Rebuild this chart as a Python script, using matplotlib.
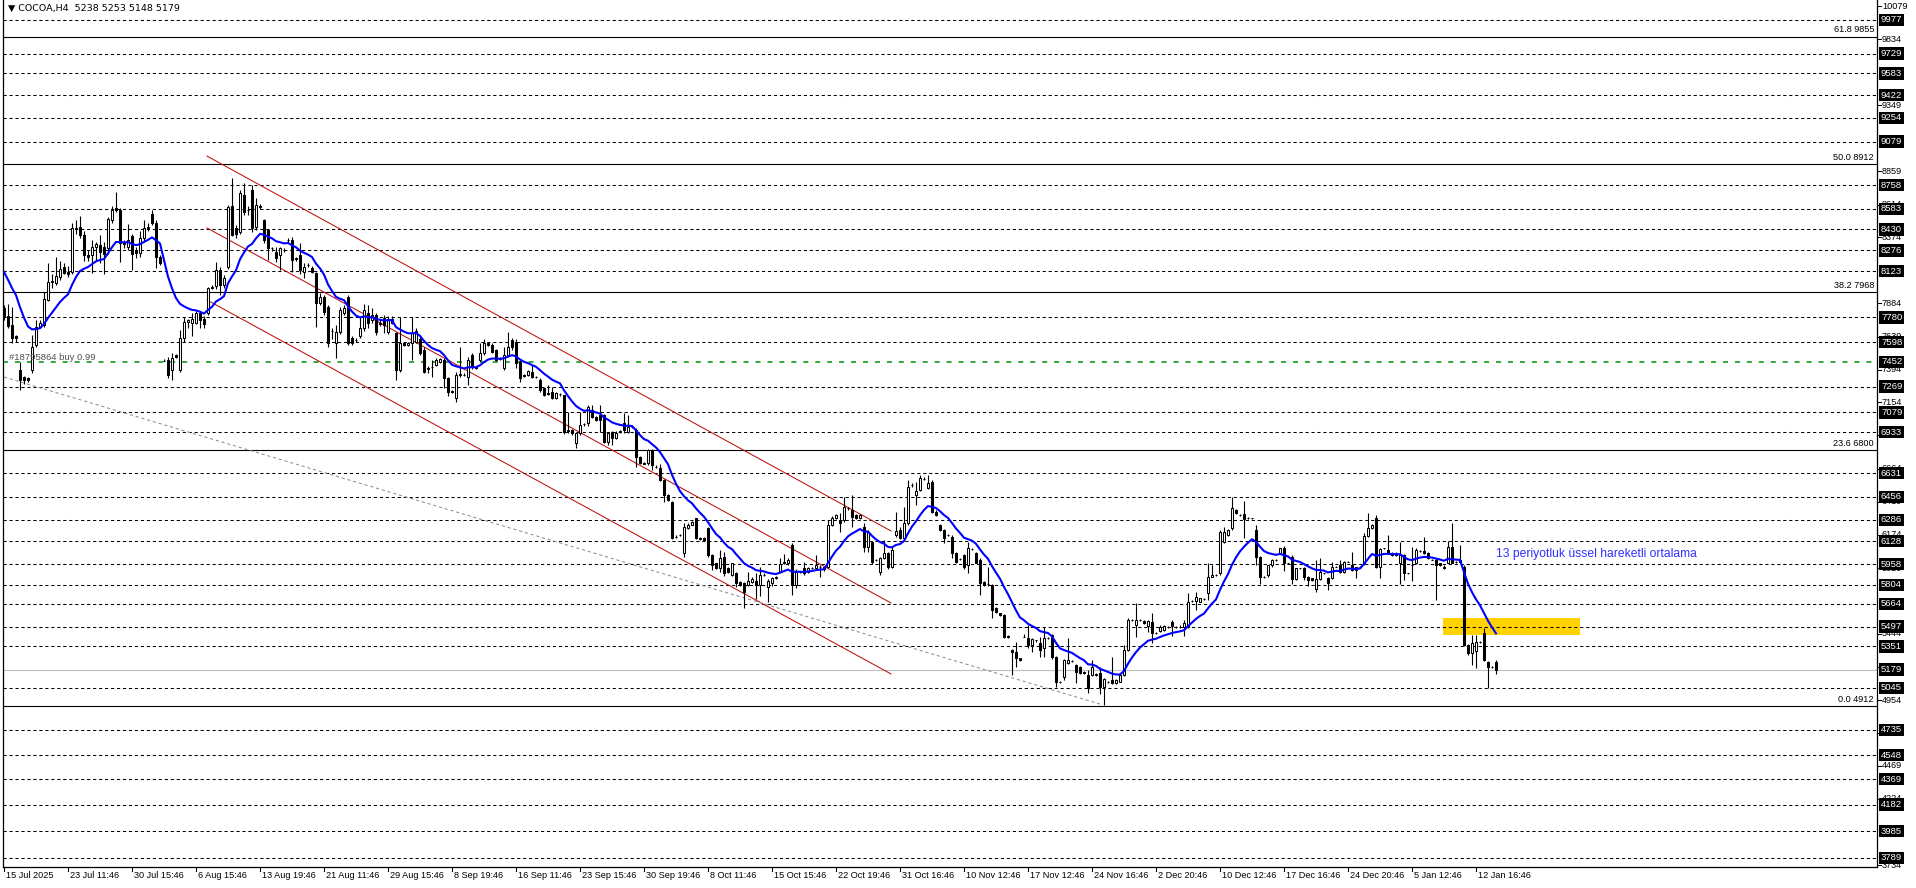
import numpy as np
import pandas as pd
import matplotlib
matplotlib.use("Agg")
import matplotlib.pyplot as plt
from matplotlib.patches import Rectangle

plt.rcParams['font.family'] = ['Liberation Sans', 'DejaVu Sans']
plt.rcParams['lines.scale_dashes'] = False

# ---- data (COCOA, H4) ----
opens = [
    7850, 7790, 7724, 7640, 7392, 7340, 7330, 7392, 7576, 7712,
    7724, 7910, 8040, 8037, 8082, 8155, 8116, 8118, 8440, 8445,
    8390, 8240, 8240, 8300, 8315, 8300, 8290, 8500, 8590, 8570,
    8330, 8300, 8380, 8278, 8253, 8365, 8440, 8544, 8480, 8230,
    7460, 7466, 7390, 7500, 7392, 7626, 7750, 7740, 7740, 7810,
    7770, 7810, 8006, 8010, 8130, 8020, 8155, 8600, 8440, 8414,
    8685, 8574, 8721, 8450, 8600, 8500, 8426, 8290, 8265, 8240,
    8280, 8352, 8352, 8217, 8241, 8118, 8167, 8143, 8106, 7884,
    7933, 7860, 7683, 7589, 7675, 7810, 7933, 7626, 7614, 7640,
    7700, 7810, 7760, 7797, 7740, 7773, 7670, 7740, 7663, 7392,
    7589, 7580, 7589, 7600, 7618, 7540, 7404, 7416, 7430, 7450,
    7466, 7330, 7236, 7183, 7355, 7355, 7343, 7503, 7416, 7466,
    7515, 7589, 7575, 7540, 7478, 7404, 7503, 7613, 7601, 7453,
    7355, 7355, 7380, 7343, 7318, 7256, 7220, 7232, 7183, 7212,
    7207, 6948, 6948, 6850, 6924, 6990, 7000, 7097, 7047, 7060,
    7060, 6862, 6936, 6887, 6936, 7000, 6936, 6973, 6948, 6752,
    6702, 6702, 6801, 6678, 6665, 6580, 6468, 6420, 6160, 6173,
    6038, 6226, 6250, 6296, 6148, 6148, 6222, 6025, 5964, 5927,
    6013, 5927, 5878, 5890, 5828, 5816, 5804, 5828, 5830, 5804,
    5878, 5790, 5816, 5855, 5902, 5970, 5963, 6099, 5804, 5902,
    5927, 5902, 5928, 5927, 5940, 5920, 5940, 6247, 6297, 6284,
    6284, 6370, 6358, 6321, 6300, 6235, 6087, 6124, 5988, 5902,
    6001, 6038, 5940, 6173, 6210, 6148, 6260, 6543, 6469, 6506,
    6586, 6518, 6562, 6346, 6247, 6210, 6173, 6161, 6038, 5995,
    6025, 5951, 6067, 6038, 5988, 5829, 5811, 5804, 5631, 5594,
    5582, 5427, 5324, 5310, 5262, 5422, 5410, 5360, 5398, 5373,
    5336, 5410, 5435, 5275, 5090, 5127, 5225, 5240, 5213, 5200,
    5164, 5140, 5140, 5140, 5152, 5053, 5090, 5102, 5078, 5090,
    5140, 5324, 5545, 5508, 5545, 5540, 5502, 5533, 5447, 5465,
    5471, 5496, 5533, 5496, 5496, 5496, 5496, 5688, 5688, 5680,
    5698, 5742, 5865, 5878, 5890, 6124, 6173, 6222, 6358, 6321,
    6326, 6297, 6296, 6210, 6013, 5865, 5878, 5952, 5989, 6038,
    6075, 5964, 6013, 5846, 5927, 5927, 5865, 5853, 5772, 5846,
    5890, 5853, 5853, 5940, 5952, 5902, 5976, 5952, 5934, 5940,
    5964, 6166, 6222, 6296, 5940, 6075, 6062, 6038, 6043, 5970,
    6025, 5890, 5952, 5964, 6055, 6055, 6038, 5990, 5989, 5964,
    5940, 5970, 6087, 5976, 5989, 5940, 5361, 5299, 5318, 5385,
    5447, 5238, 5201, 5238,
]
highs = [
    7870, 7880, 7860, 7650, 7453, 7350, 7340, 7650, 7760, 7760,
    7970, 8180, 8100, 8230, 8200, 8180, 8160, 8475, 8500, 8530,
    8420, 8280, 8350, 8340, 8390, 8340, 8525, 8600, 8710, 8585,
    8350, 8470, 8400, 8300, 8415, 8500, 8475, 8570, 8500, 8240,
    7475, 7490, 7515, 7510, 7690, 7785, 7770, 7810, 7830, 7830,
    7790, 8007, 8020, 8190, 8150, 8090, 8610, 8807, 8460, 8721,
    8771, 8600, 8758, 8660, 8620, 8505, 8430, 8300, 8300, 8300,
    8290, 8370, 8377, 8230, 8327, 8180, 8180, 8160, 8118, 7960,
    7946, 7872, 7700, 7724, 7860, 7870, 7946, 7640, 7625, 7785,
    7880, 7870, 7850, 7810, 7770, 7798, 7790, 7790, 7675, 7786,
    7600, 7600, 7786, 7700, 7640, 7560, 7420, 7466, 7480, 7480,
    7478, 7343, 7245, 7380, 7564, 7370, 7490, 7520, 7425, 7589,
    7620, 7600, 7590, 7550, 7490, 7564, 7675, 7626, 7620, 7466,
    7365, 7390, 7430, 7350, 7330, 7265, 7281, 7269, 7230, 7225,
    7210, 7080, 6955, 6936, 7085, 7000, 7130, 7134, 7055, 7134,
    7070, 6936, 6945, 6940, 6950, 7072, 7060, 6980, 6960, 6760,
    6710, 6810, 6810, 6690, 6700, 6590, 6475, 6425, 6170, 6180,
    6260, 6260, 6280, 6300, 6155, 6155, 6230, 6030, 5970, 6060,
    6050, 5935, 5970, 5900, 5835, 5825, 5900, 5860, 5890, 5940,
    5890, 5850, 5860, 5870, 6000, 6033, 6000, 6112, 5920, 5910,
    5975, 5935, 5940, 6025, 5950, 5940, 6284, 6310, 6330, 6333,
    6456, 6380, 6469, 6330, 6330, 6260, 6210, 6130, 5995, 6010,
    6136, 6050, 6087, 6345, 6235, 6382, 6580, 6555, 6568, 6616,
    6600, 6616, 6580, 6355, 6255, 6220, 6180, 6170, 6045, 6000,
    6035, 6124, 6075, 6045, 6000, 5835, 5940, 5810, 5640, 5600,
    5590, 5432, 5330, 5385, 5268, 5440, 5508, 5410, 5400, 5422,
    5496, 5420, 5440, 5280, 5098, 5260, 5410, 5248, 5220, 5205,
    5170, 5175, 5250, 5155, 5200, 5120, 5098, 5275, 5110, 5145,
    5360, 5558, 5552, 5668, 5552, 5548, 5545, 5594, 5455, 5505,
    5505, 5502, 5545, 5502, 5505, 5545, 5742, 5695, 5755, 5710,
    5705, 5964, 5952, 5885, 6210, 6235, 6215, 6456, 6365, 6328,
    6427, 6305, 6302, 6247, 6020, 5872, 5952, 5995, 5995, 6080,
    6090, 5970, 6025, 5930, 5932, 5935, 5870, 5858, 5990, 6001,
    5896, 5860, 5976, 5946, 5989, 5980, 5980, 6050, 5940, 5945,
    6186, 6333, 6252, 6321, 6075, 6080, 6173, 6045, 6050, 6124,
    6030, 5895, 6087, 6075, 6060, 6161, 6045, 5995, 5995, 5970,
    5948, 6131, 6259, 5982, 6100, 5952, 5368, 5435, 5435, 5392,
    5484, 5245, 5208, 5253,
]
lows = [
    7760, 7700, 7590, 7600, 7244, 7290, 7300, 7368, 7565, 7700,
    7710, 7900, 8000, 8020, 8060, 8100, 8080, 8100, 8400, 8370,
    8200, 8200, 8110, 8200, 8180, 8100, 8250, 8480, 8560, 8192,
    8290, 8280, 8130, 8220, 8230, 8340, 8420, 8460, 8143, 8170,
    7455, 7330, 7318, 7480, 7380, 7600, 7700, 7640, 7730, 7700,
    7700, 7800, 7990, 7990, 7946, 8000, 8140, 8380, 8370, 8400,
    8537, 8540, 8414, 8425, 8580, 8330, 8205, 8270, 8190, 8130,
    8260, 8330, 8118, 8200, 8100, 8069, 8150, 8110, 7712, 7870,
    7800, 7564, 7620, 7478, 7660, 7800, 7580, 7580, 7600, 7630,
    7680, 7700, 7740, 7650, 7720, 7663, 7660, 7730, 7318, 7380,
    7570, 7570, 7466, 7590, 7500, 7370, 7370, 7343, 7420, 7440,
    7257, 7200, 7220, 7158, 7340, 7345, 7281, 7400, 7400, 7450,
    7500, 7570, 7520, 7460, 7465, 7392, 7490, 7540, 7410, 7300,
    7340, 7345, 7335, 7330, 7232, 7200, 7205, 7175, 7175, 7200,
    6920, 6930, 6910, 6813, 6910, 6980, 6980, 7040, 7015, 6936,
    6855, 6840, 6838, 6880, 6930, 6930, 6930, 6965, 6678, 6700,
    6695, 6690, 6653, 6670, 6570, 6420, 6425, 6140, 6150, 6165,
    6013, 6220, 6245, 6140, 6135, 6130, 6010, 5915, 5920, 5900,
    5870, 5895, 5870, 5790, 5800, 5632, 5795, 5820, 5700, 5720,
    5870, 5680, 5800, 5850, 5890, 5960, 5955, 5730, 5780, 5895,
    5880, 5895, 5925, 5920, 5865, 5910, 5930, 6240, 6290, 6198,
    6270, 6360, 6235, 6290, 6295, 6050, 6050, 5960, 5980, 5878,
    5995, 5920, 5930, 6160, 6140, 6140, 6250, 6530, 6395, 6500,
    6580, 6510, 6333, 6315, 6205, 6112, 6165, 6001, 5970, 5990,
    5920, 5890, 6060, 5965, 5730, 5800, 5800, 5558, 5600, 5578,
    5410, 5415, 5140, 5200, 5245, 5420, 5340, 5310, 5385, 5275,
    5275, 5405, 5260, 5053, 5082, 5100, 5220, 5235, 5078, 5145,
    5148, 5005, 5135, 5135, 5000, 4918, 5082, 5070, 5070, 5085,
    5130, 5315, 5538, 5422, 5538, 5515, 5460, 5373, 5440, 5460,
    5465, 5490, 5430, 5490, 5488, 5430, 5490, 5680, 5620, 5675,
    5690, 5693, 5860, 5870, 5880, 6115, 6165, 6210, 6325, 6315,
    6149, 6290, 6290, 5951, 5810, 5858, 5865, 5940, 5982, 6030,
    5910, 5958, 5810, 5840, 5922, 5840, 5800, 5835, 5755, 5840,
    5884, 5767, 5845, 5934, 5895, 5895, 5972, 5910, 5855, 5935,
    5950, 6160, 6218, 5927, 5853, 6070, 6030, 6020, 6020, 5811,
    5840, 5885, 5830, 5960, 6050, 6030, 5995, 5985, 5693, 5945,
    5920, 5965, 5965, 5970, 5970, 5355, 5287, 5213, 5188, 5378,
    5240, 5040, 5194, 5148,
]
closes = [
    7790, 7720, 7626, 7630, 7318, 7320, 7320, 7564, 7712, 7736,
    7914, 8044, 8050, 8086, 8135, 8110, 8104, 8438, 8430, 8390,
    8240, 8230, 8300, 8320, 8265, 8250, 8506, 8574, 8570, 8328,
    8320, 8350, 8250, 8253, 8365, 8438, 8445, 8480, 8224, 8185,
    7458, 7355, 7478, 7490, 7626, 7749, 7760, 7768, 7810, 7760,
    7730, 7995, 8000, 8130, 8020, 8070, 8598, 8390, 8400, 8697,
    8561, 8570, 8438, 8610, 8598, 8352, 8290, 8290, 8217, 8290,
    8275, 8350, 8204, 8215, 8130, 8155, 8167, 8118, 7884, 7933,
    7823, 7589, 7680, 7675, 7835, 7847, 7589, 7589, 7614, 7700,
    7835, 7736, 7800, 7675, 7735, 7724, 7770, 7770, 7392, 7589,
    7580, 7590, 7663, 7680, 7515, 7380, 7400, 7416, 7466, 7470,
    7330, 7232, 7230, 7355, 7360, 7355, 7466, 7416, 7410, 7515,
    7589, 7580, 7527, 7466, 7470, 7503, 7564, 7564, 7441, 7330,
    7350, 7384, 7343, 7340, 7244, 7207, 7215, 7183, 7220, 7215,
    6936, 6944, 6924, 6924, 6985, 6994, 7121, 7047, 7023, 7023,
    6862, 6930, 6887, 6930, 6940, 6948, 6970, 6973, 6752, 6702,
    6700, 6801, 6690, 6674, 6580, 6468, 6432, 6148, 6157, 6170,
    6235, 6250, 6270, 6148, 6140, 6136, 6025, 5951, 5927, 6000,
    5890, 5900, 5964, 5816, 5804, 5755, 5830, 5850, 5804, 5878,
    5880, 5835, 5853, 5860, 5959, 5975, 5988, 5804, 5902, 5902,
    5890, 5927, 5930, 5950, 5940, 5935, 6247, 6297, 6320, 6260,
    6382, 6370, 6308, 6296, 6321, 6087, 6198, 5976, 5985, 6001,
    6042, 5940, 6062, 6205, 6148, 6260, 6530, 6540, 6500, 6592,
    6590, 6560, 6346, 6321, 6210, 6148, 6170, 6038, 5976, 5995,
    5940, 6075, 6067, 5970, 5816, 5804, 5808, 5619, 5607, 5582,
    5422, 5420, 5310, 5262, 5250, 5422, 5360, 5403, 5398, 5324,
    5410, 5410, 5275, 5090, 5090, 5250, 5250, 5240, 5164, 5152,
    5152, 5040, 5200, 5150, 5053, 5110, 5090, 5078, 5102, 5140,
    5324, 5545, 5545, 5545, 5545, 5520, 5540, 5452, 5447, 5496,
    5500, 5496, 5501, 5496, 5496, 5520, 5681, 5688, 5713, 5705,
    5698, 5865, 5878, 5878, 6198, 6198, 6210, 6370, 6333, 6321,
    6289, 6297, 6296, 6013, 5865, 5865, 5952, 5989, 5989, 6075,
    5964, 5964, 5846, 5927, 5927, 5865, 5840, 5840, 5846, 5902,
    5890, 5816, 5940, 5940, 5902, 5976, 5976, 5915, 5915, 5940,
    6166, 6222, 6247, 5940, 6067, 6075, 6038, 6025, 6025, 6025,
    5890, 5890, 5955, 6062, 6055, 6038, 6001, 5990, 5952, 5952,
    5927, 6087, 5970, 5976, 5976, 5361, 5299, 5373, 5385, 5385,
    5250, 5201, 5201, 5179,
]
ema_seed = 8170
ema_period = 13

time_labels = ["15 Jul 2025", "23 Jul 11:46", "30 Jul 15:46", "6 Aug 15:46",
               "13 Aug 19:46", "21 Aug 11:46", "29 Aug 15:46", "8 Sep 19:46",
               "16 Sep 11:46", "23 Sep 15:46", "30 Sep 19:46", "8 Oct 11:46",
               "15 Oct 15:46", "22 Oct 19:46", "31 Oct 16:46", "10 Nov 12:46",
               "17 Nov 12:46", "24 Nov 16:46", "2 Dec 20:46", "10 Dec 12:46",
               "17 Dec 16:46", "24 Dec 20:46", "5 Jan 12:46", "12 Jan 16:46"]
bars_per_label = 16

# plain scale labels (the ones not hidden behind a level box)
scale_levels = [10079, 9834, 9349, 8859, 8614, 8374, 7884, 7639, 7394, 7154,
                6909, 6664, 6419, 6174, 5929, 5444, 5199, 4954, 4714, 4469,
                4224, 3734]
hline_levels = [9977, 9729, 9583, 9422, 9254, 9079, 8758, 8583, 8430, 8276,
                8123, 7780, 7598, 7269, 7079, 6933, 6631, 6456, 6286, 6128,
                5958, 5804, 5664, 5497, 5351, 5045, 4735, 4548, 4369, 4182,
                3985, 3789]
order_level = 7452
bid_level = 5179
fib_pcts = ["61.8", "50.0", "38.2", "23.6", "0.0"]
fib_levels = [9855, 8912, 7968, 6800, 4912]

# trend channel (bar index, price) pairs
channel_x = (50.75, 221.75)
channel_upper = (8972, 6203)
channel_mid = (8441, 5671)
channel_low = (7909, 5147)
diag_x = (0.0, 274.75)
diag_y = (7340, 4918)
zone_x = (359.75, 394.0)
zone_y = (5435, 5560)

# ---- layout ----
W, H = 1916, 888
PLOT_L, PLOT_R, PLOT_B = 3, 1877, 867
BAR_PX, FIRST_PX = 4.0, 4.0
PRICE_PER_PX, REF_PRICE, REF_Y = 7.386, 9977, 20


def px_to_bar(px):
    return (px - FIRST_PX) / BAR_PX


def y_to_price(y):
    return REF_PRICE - (y - REF_Y) * PRICE_PER_PX


fig = plt.figure(figsize=(W / 100, H / 100), dpi=100)
ax = fig.add_axes([PLOT_L / W, (H - PLOT_B) / H, (PLOT_R - PLOT_L) / W, PLOT_B / H])
ax.set_xlim(px_to_bar(PLOT_L), px_to_bar(PLOT_R))
ax.set_ylim(y_to_price(PLOT_B), y_to_price(0))
ax.set_xticks([])
ax.set_yticks([])
for side in ["left", "right", "bottom"]:
    ax.spines[side].set_linewidth(0.9)
    ax.spines[side].set_color("black")
ax.spines["top"].set_visible(False)

o = np.array(opens, float)
h = np.array(highs, float)
l = np.array(lows, float)
c = np.array(closes, float)
n = len(c)
assert len(o) == len(h) == len(l) == n
x = np.arange(n)

# horizontal levels
dash = (0, (2.3, 2.0))
for lv in hline_levels:
    ax.axhline(lv, color="black", lw=0.75, ls=dash, zorder=1)
ax.axhline(order_level, color="#009000", lw=1.1, ls=(0, (3.6, 5.0)), zorder=1)
ax.axhline(bid_level, color="#c0c0c0", lw=0.8, zorder=1)
for pct, lv in zip(fib_pcts, fib_levels):
    ax.axhline(lv, color="black", lw=0.8, zorder=1)
    ax.text((1874 - PLOT_L) / (PLOT_R - PLOT_L), lv + 15, f"{pct} {lv}",
            transform=ax.get_yaxis_transform(), ha="right", va="bottom",
            fontsize=6.6, color="black")

# yellow zone
ax.add_patch(Rectangle((zone_x[0], zone_y[0]), zone_x[1] - zone_x[0],
                       zone_y[1] - zone_y[0], facecolor="#ffd200",
                       edgecolor="none", zorder=0.5))

# channel and diagonal lines
for ys in (channel_upper, channel_mid, channel_low):
    ax.plot(channel_x, ys, color="#c01010", lw=0.75, zorder=2)
ax.plot(diag_x, diag_y, color="#909090", lw=0.75, ls=dash, zorder=2)

# candles
ax.vlines(x, l, h, color="black", lw=0.8, zorder=3)
up = c >= o
ax.bar(x[up], (c - o)[up], bottom=o[up], width=0.55, color="white",
       edgecolor="black", linewidth=0.75, zorder=3.5)
ax.bar(x[~up], (o - c)[~up], bottom=c[~up], width=0.55, color="black",
       edgecolor="black", linewidth=0.75, zorder=3.5)

# 13 EMA
ema = pd.Series(np.r_[ema_seed, c]).ewm(span=ema_period, adjust=False).mean().to_numpy()[1:]
ax.plot(x, ema, color="#0000ff", lw=1.5, zorder=4)

ax.text(px_to_bar(1496), y_to_price(554), "13 periyotluk üssel hareketli ortalama",
        color="#3030ff", fontsize=8.7, va="center", ha="left", zorder=5)
ax.text(px_to_bar(9), y_to_price(357), "#18795864 buy 0.99", color="#505050",
        fontsize=6.8, va="center", ha="left", zorder=5)

# right price scale
ytr = ax.get_yaxis_transform()
ax_w = PLOT_R - PLOT_L
for lv in scale_levels:
    ax.plot([1.0, 1.0 + 4 / ax_w], [lv, lv], color="black", lw=0.75,
            transform=ytr, clip_on=False)
    ax.text(1.0 + 5 / ax_w, lv, str(lv), transform=ytr, ha="left", va="center",
            fontsize=6.6, color="black", clip_on=False)
for lv in hline_levels + [order_level, bid_level]:
    ax.text(1.0 + 4 / ax_w, lv, str(lv), transform=ytr, ha="left", va="center",
            fontsize=6.8, color="white", clip_on=False, zorder=6,
            bbox=dict(boxstyle="square,pad=0.18", fc="black", ec="none"))

# bottom time scale
xtr = ax.get_xaxis_transform()
for k, lab in enumerate(time_labels):
    xi = k * bars_per_label
    ax.plot([xi, xi], [0, -4 / PLOT_B], color="black", lw=0.75,
            transform=xtr, clip_on=False)
    ax.text(xi + 0.4, -8 / PLOT_B, lab, transform=xtr, ha="left", va="center",
            fontsize=6.6, color="black", clip_on=False)

# header
fig.text(8 / W, 1 - 8 / H, "\u25bc COCOA,H4  5238 5253 5148 5179",
         fontsize=6.8, va="center", ha="left", color="black",
         family=["DejaVu Sans"])

fig.savefig("out.png", dpi=100, facecolor="white")
